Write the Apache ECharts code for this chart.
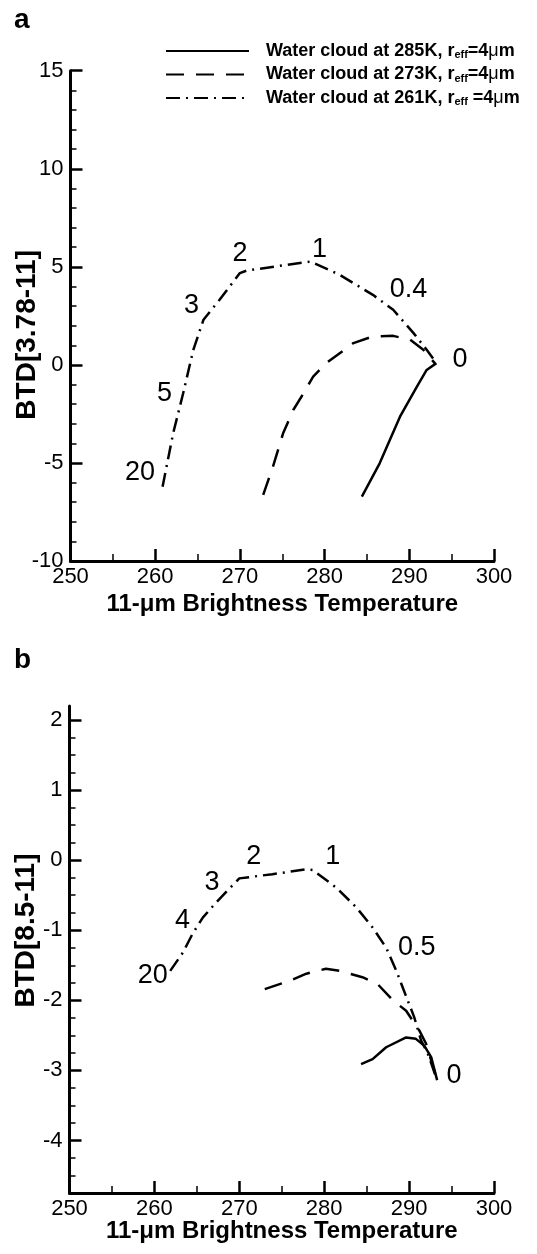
<!DOCTYPE html>
<html>
<head>
<meta charset="utf-8">
<script src="https://cdn.jsdelivr.net/npm/echarts@6/dist/echarts.min.js"></script>
<style>
html, body { margin: 0; padding: 0; background: #fff; }
#chart { width: 537px; height: 1254px; }
</style>
</head>
<body>
<div id="chart"></div>
<script>
// Brightness-temperature differences of water clouds (r_eff = 4 µm) vs. the 11-µm brightness temperature.
const cloudNames = ['Water cloud at 285K', 'Water cloud at 273K', 'Water cloud at 261K'];

// Panel a: BTD[3.78-11]
const btd378_285 = [[284.4, -6.72], [286.5, -5.02], [288.9, -2.64], [290.9, -1.11], [292.05, -0.26], [293.2, 0.09]];
const btd378_273 = [[272.75, -6.63], [273.9, -5.19], [275.1, -3.49], [276.3, -2.30], [277.5, -1.45], [278.65, -0.6],
  [280.2, 0.09], [283.4, 1.11], [285.7, 1.45], [288.1, 1.48], [290.1, 1.28], [291.65, 0.77], [293.0, 0.09]];
const btd378_261 = [[260.87, -6.21], [262.12, -3.49], [263.3, -1.45], [264.5, 0.77], [265.7, 2.30], [267.6, 3.32],
  [270.0, 4.68], [270.8, 4.81], [278.3, 5.27], [281.8, 4.59], [285.7, 3.57], [288.1, 2.81], [290.5, 1.62],
  [292.05, 0.77], [293.2, 0.09]];
// optical-thickness annotations along the 261K curve: [BT, BTD, text]
const tauA = [[258.2, -5.5, '20'], [261.1, -1.45, '5'], [264.3, 3.0, '3'], [270.0, 5.7, '2'],
  [279.4, 5.87, '1'], [289.9, 3.83, '0.4'], [296.0, 0.26, '0']];

// Panel b: BTD[8.5-11]
const btd85_285 = [[284.34, -2.91], [285.7, -2.84], [287.3, -2.67], [289.65, -2.53], [290.8, -2.55], [291.8, -2.65],
  [292.6, -2.81], [293.3, -3.14]];
const btd85_273 = [[273.0, -1.84], [275.95, -1.72], [277.9, -1.62], [280.2, -1.55], [281.8, -1.58], [284.5, -1.67],
  [286.3, -1.77], [288.1, -2.00], [289.65, -2.15], [291.2, -2.43], [292.0, -2.62], [293.3, -3.14]];
const btd85_261 = [[261.86, -1.58], [263.35, -1.32], [264.5, -1.05], [265.7, -0.82], [267.3, -0.60], [268.8, -0.41],
  [270.0, -0.26], [273.9, -0.20], [277.9, -0.13], [278.65, -0.14], [281.4, -0.39], [283.75, -0.67], [285.7, -0.96],
  [287.3, -1.25], [288.5, -1.58], [289.7, -1.96], [290.6, -2.24], [291.4, -2.57], [292.2, -2.76], [293.3, -3.14]];
const tauB = [[259.8, -1.65, '20'], [263.3, -0.86, '4'], [266.8, -0.32, '3'], [271.7, 0.05, '2'],
  [281.0, 0.05, '1'], [290.9, -1.25, '0.5'], [295.3, -3.07, '0']];

// axis ranges and tick values
const xRange = [250, 300];
const yRangeA = [-10, 15];
const yRangeB = [-4.75, 2.2];
const yMajorB = [-4, -3, -2, -1, 0, 1, 2];
const yMinorB = [-4.75, -4.5, -4.25, -3.75, -3.5, -3.25, -2.75, -2.5, -2.25, -1.75, -1.5, -1.25,
  -0.75, -0.5, -0.25, 0.25, 0.5, 0.75, 1.25, 1.5, 1.75];

const FONT = '"Liberation Sans", Arial, Helvetica, sans-serif';
const lineStyles = [
  { type: 'solid' },
  { type: [18, 12] },
  { type: [14, 6, 2, 6] }
];

const chart = echarts.init(document.getElementById('chart'), null, { renderer: 'canvas' });

function xAxis(gridIndex, gap) {
  return {
    gridIndex, type: 'value', min: xRange[0], max: xRange[1], interval: 10,
    name: '11-\u03bcm Brightness Temperature', nameLocation: 'middle', nameGap: gap, nameMoveOverlap: false,
    nameTextStyle: { fontFamily: FONT, fontWeight: 'bold', fontSize: 24, color: '#000' },
    axisLine: { onZero: false, lineStyle: { color: '#000', width: 3 } },
    axisTick: { inside: true, length: 12, lineStyle: { color: '#000', width: 2.5 } },
    minorTick: { show: true, splitNumber: 2, length: 7, lineStyle: { color: '#000', width: 1.5 } },
    axisLabel: { fontFamily: FONT, fontSize: 22, color: '#000', margin: 5 },
    splitLine: { show: false }
  };
}

const lineSeries = (data, i, xi, yi) => ({
  type: 'line', name: cloudNames[i], data, xAxisIndex: xi, yAxisIndex: yi,
  showSymbol: false, symbol: 'none', smooth: false, animation: false,
  itemStyle: { color: '#000' },
  lineStyle: Object.assign({ color: '#000', width: 2.5 }, lineStyles[i])
});

const tauSeries = (data, xi, yi) => ({
  type: 'scatter', data, xAxisIndex: xi, yAxisIndex: yi, symbolSize: 0, silent: true, animation: false,
  itemStyle: { opacity: 1, color: '#000' },
  label: { show: true, position: 'inside', formatter: p => p.value[2], fontFamily: FONT, fontSize: 27, color: '#000' }
});

const yName = (text, pad) => ({
  name: text, nameLocation: 'middle', nameGap: 29, nameMoveOverlap: false,
  nameTextStyle: { fontFamily: FONT, fontWeight: 'bold', fontSize: 28, color: '#000', padding: pad }
});

const yAxisBase = {
  type: 'value',
  axisLine: { show: true, onZero: false, lineStyle: { color: '#000', width: 3 } },
  splitLine: { show: false }
};

const option = {
  backgroundColor: '#fff',
  animation: false,
  textStyle: { fontFamily: FONT },
  grid: [
    { left: 70.5, right: 43, top: 70.7, height: 490.3, outerBoundsMode: 'none', containLabel: false },
    { left: 69.5, right: 43, top: 706, height: 487, outerBoundsMode: 'none', containLabel: false }
  ],
  legend: {
    data: cloudNames, orient: 'vertical', left: 165, top: 42, itemGap: 5, padding: 0,
    itemWidth: 83, itemHeight: 18,
    itemStyle: { opacity: 0 },
    formatter: n => n + ', r{sub|eff}' + (n.indexOf('261') >= 0 ? ' ' : '') + '=4{mu|\u03bc}m',
    textStyle: {
      fontFamily: FONT, fontWeight: 'bold', fontSize: 18, color: '#000', padding: [0, 0, 0, 12],
      rich: {
        sub: { fontFamily: FONT, fontWeight: 'bold', fontSize: 11, verticalAlign: 'bottom', padding: [8, 0, 0, 0] },
        mu: { fontFamily: FONT, fontWeight: 'normal', fontSize: 18 }
      }
    }
  },
  xAxis: [xAxis(0, 31), xAxis(1, 26)],
  yAxis: [
    Object.assign({}, yAxisBase, yName('BTD[3.78-11]', [0, 38, 0, 0]), {
      gridIndex: 0, min: yRangeA[0], max: yRangeA[1], interval: 5,
      axisTick: { inside: true, length: 12, lineStyle: { color: '#000', width: 2.5 } },
      minorTick: { show: true, splitNumber: 5, length: 6, lineStyle: { color: '#000', width: 1.5 } },
      axisLabel: { fontFamily: FONT, fontSize: 22, color: '#000', margin: 7 }
    }),
    Object.assign({}, yAxisBase, yName('BTD[8.5-11]', [0, 0, 0, 38]), {
      gridIndex: 1, min: yRangeB[0], max: yRangeB[1],
      axisTick: { inside: true, length: 12, customValues: yMajorB, lineStyle: { color: '#000', width: 2.5 } },
      axisLabel: { fontFamily: FONT, fontSize: 22, color: '#000', margin: 7, customValues: yMajorB }
    }),
    {
      // minor ticks of panel b
      gridIndex: 1, type: 'value', min: yRangeB[0], max: yRangeB[1], position: 'left', offset: 0,
      axisLine: { show: false },
      axisTick: { show: true, inside: true, length: 6, customValues: yMinorB, lineStyle: { color: '#000', width: 1.5 } },
      axisLabel: { show: false },
      splitLine: { show: false }
    }
  ],
  graphic: [
    { type: 'text', left: 14, top: 6, style: { text: 'a', fontFamily: FONT, fontWeight: 'bold', fontSize: 28, fill: '#000' } },
    { type: 'text', left: 14, top: 646, style: { text: 'b', fontFamily: FONT, fontWeight: 'bold', fontSize: 28, fill: '#000' } }
  ],
  series: [
    lineSeries(btd378_285, 0, 0, 0),
    lineSeries(btd378_273, 1, 0, 0),
    lineSeries(btd378_261, 2, 0, 0),
    tauSeries(tauA, 0, 0),
    lineSeries(btd85_285, 0, 1, 1),
    lineSeries(btd85_273, 1, 1, 1),
    lineSeries(btd85_261, 2, 1, 1),
    tauSeries(tauB, 1, 1)
  ]
};

chart.setOption(option);
</script>
</body>
</html>
